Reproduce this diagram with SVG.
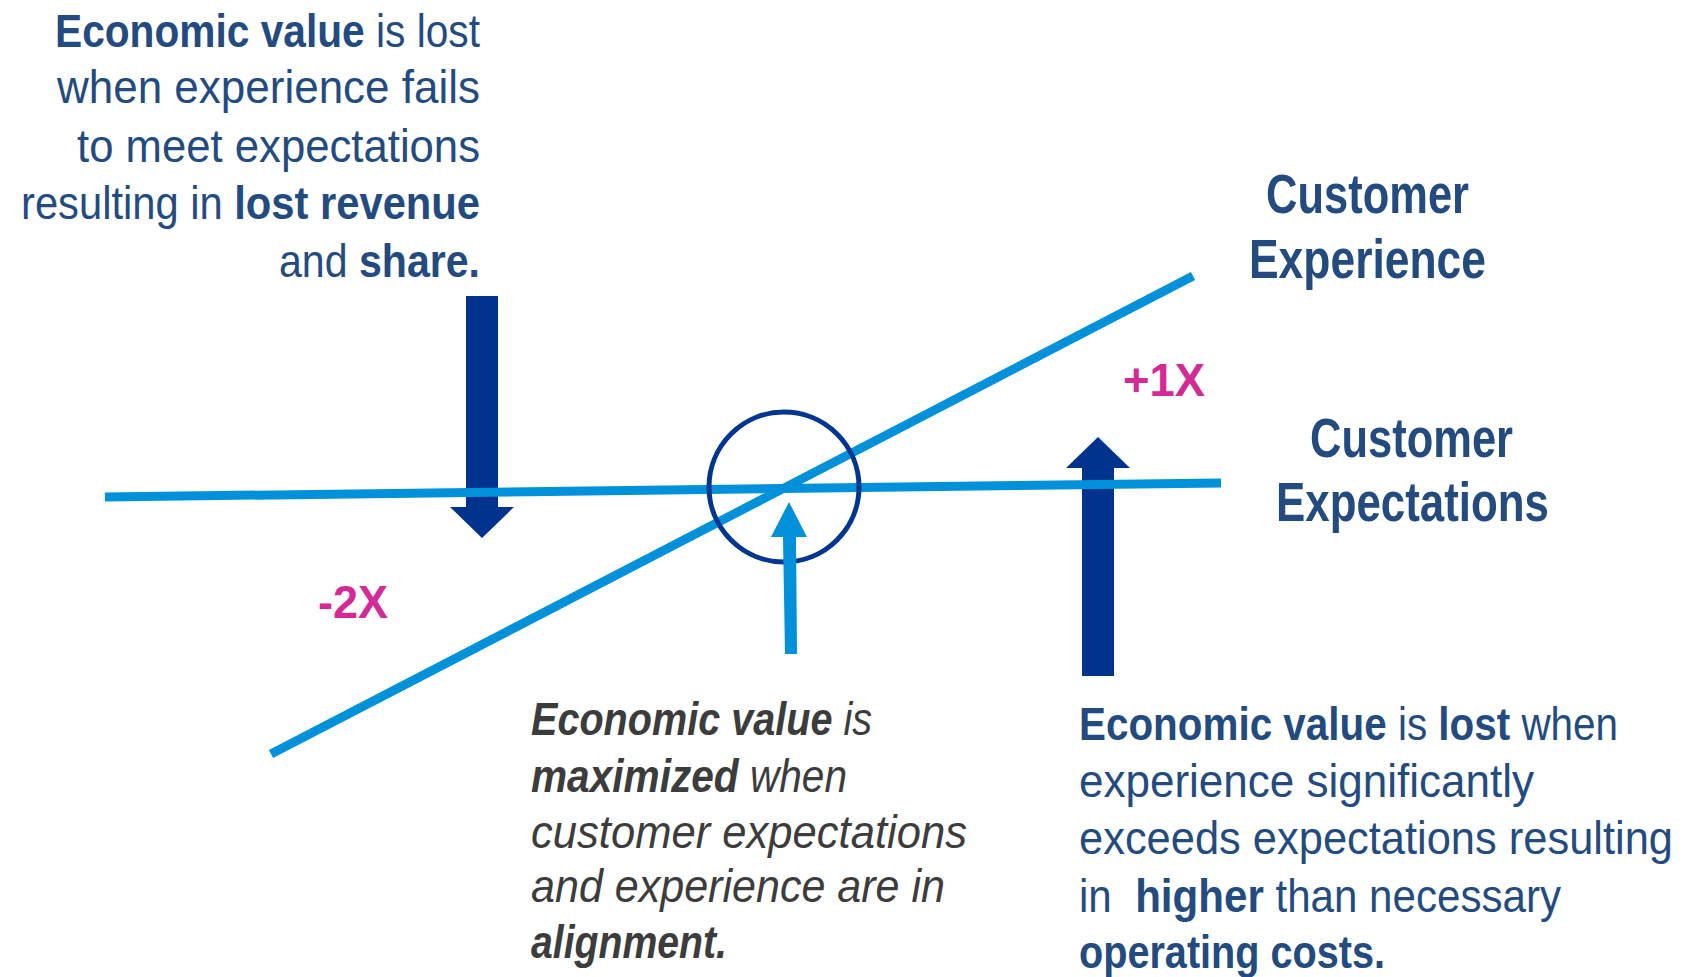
<svg xmlns="http://www.w3.org/2000/svg" width="1685" height="977" viewBox="0 0 1685 977">
<style>
.t{font-family:"Liberation Sans",Arial,sans-serif;font-size:47px;fill:#234b7f}
.b{font-weight:bold}
.i{font-family:"Liberation Sans",Arial,sans-serif;font-size:47px;fill:#3c3c3c;font-style:italic}
.lbl{font-family:"Liberation Sans",Arial,sans-serif;font-size:56px;font-weight:bold;fill:#234b7f}
.mag{font-family:"Liberation Sans",Arial,sans-serif;font-size:47px;font-weight:bold;fill:#d42a96}
.line{stroke:#0091da;stroke-width:9;fill:none}
.navy{fill:#00338d}
</style>
<rect width="1685" height="977" fill="#ffffff"/>
<g id="arrow-down"><polygon class="navy" points="466,296 498,296 498,507 514,507 482,538 450,507 466,507"/></g>
<g id="arrow-up-right"><polygon class="navy" points="1082,676 1114,676 1114,468 1130,468 1098,437 1066,468 1082,468"/></g>
<g id="connectors">
<line class="line" x1="105" y1="497" x2="1221" y2="483"/>
<line class="line" x1="271" y1="754" x2="1193" y2="276"/>
</g>
<g id="alignment-circle"><circle cx="784" cy="487" r="75" fill="none" stroke="#003591" stroke-width="5"/></g>
<g id="arrow-up-center"><polygon fill="#0091da" points="785,654 797,654 796,537 807,537 789,502 771,537 783,537"/></g>
<g id="text-top-left">
<text class="t" x="55" y="47" textLength="425" lengthAdjust="spacingAndGlyphs"><tspan class="b">Economic value</tspan> is lost</text>
<text class="t" x="57" y="103" textLength="423" lengthAdjust="spacingAndGlyphs">when experience fails</text>
<text class="t" x="77" y="162" textLength="403" lengthAdjust="spacingAndGlyphs">to meet expectations</text>
<text class="t" x="21" y="219" textLength="459" lengthAdjust="spacingAndGlyphs">resulting in <tspan class="b">lost revenue</tspan></text>
<text class="t" x="279" y="277" textLength="201" lengthAdjust="spacingAndGlyphs">and <tspan class="b">share.</tspan></text>
</g>
<g id="label-experience">
<text class="lbl" x="1266" y="213" textLength="203" lengthAdjust="spacingAndGlyphs">Customer</text>
<text class="lbl" x="1249" y="278" textLength="237" lengthAdjust="spacingAndGlyphs">Experience</text>
</g>
<g id="label-expectations">
<text class="lbl" x="1310" y="457" textLength="203" lengthAdjust="spacingAndGlyphs">Customer</text>
<text class="lbl" x="1276" y="521" textLength="273" lengthAdjust="spacingAndGlyphs">Expectations</text>
</g>
<g id="label-minus2x"><text class="mag" x="318" y="618" textLength="70" lengthAdjust="spacingAndGlyphs">-2X</text></g>
<g id="label-plus1x"><text class="mag" x="1123" y="396" textLength="82" lengthAdjust="spacingAndGlyphs">+1X</text></g>
<g id="text-center">
<text class="i" x="531" y="735" textLength="341" lengthAdjust="spacingAndGlyphs"><tspan class="b">Economic value</tspan> is</text>
<text class="i" x="531" y="792" textLength="316" lengthAdjust="spacingAndGlyphs"><tspan class="b">maximized</tspan> when</text>
<text class="i" x="531" y="848" textLength="436" lengthAdjust="spacingAndGlyphs">customer expectations</text>
<text class="i" x="531" y="902" textLength="414" lengthAdjust="spacingAndGlyphs">and experience are in</text>
<text class="i" x="531" y="958" textLength="196" lengthAdjust="spacingAndGlyphs"><tspan class="b">alignment.</tspan></text>
</g>
<g id="text-bottom-right">
<text class="t" x="1079" y="740" textLength="539" lengthAdjust="spacingAndGlyphs"><tspan class="b">Economic value</tspan> is <tspan class="b">lost</tspan> when</text>
<text class="t" x="1079" y="797" textLength="455" lengthAdjust="spacingAndGlyphs">experience significantly</text>
<text class="t" x="1079" y="854" textLength="594" lengthAdjust="spacingAndGlyphs">exceeds expectations resulting</text>
<text class="t" x="1079" y="912" textLength="482" lengthAdjust="spacingAndGlyphs" xml:space="preserve">in  <tspan class="b">higher</tspan> than necessary</text>
<text class="t" x="1079" y="968" textLength="306" lengthAdjust="spacingAndGlyphs"><tspan class="b">operating costs.</tspan></text>
</g>
</svg>
